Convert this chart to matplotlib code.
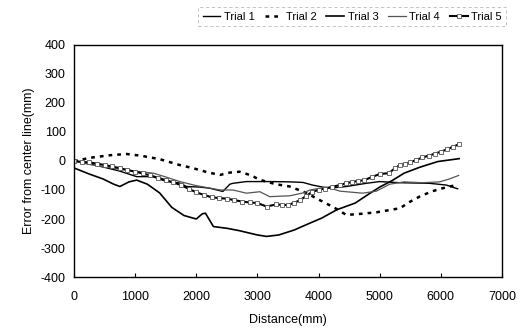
import matplotlib
matplotlib.use("Agg")
import matplotlib.pyplot as plt

plt.rcParams['font.family'] = ['Liberation Sans', 'DejaVu Sans']
plt.rcParams['axes.unicode_minus'] = False

# Trial 1 (black solid)
t1_x = [0, 250, 500, 750, 1025, 1290, 1500, 1730, 1840, 2060, 2220, 2435, 2550, 2600, 2820, 3200, 3530, 3745, 3900, 4070, 4180, 4455, 4780, 5000, 5330, 5815, 6090, 6275]
t1_y = [0, -10, -22, -35, -54, -54, -70, -76, -88, -90, -94, -105, -80, -77, -71, -71, -72, -74, -83, -90, -94, -88, -77, -71, -75, -77, -83, -96]

# Trial 2 (dashed)
t2_x = [0, 300, 600, 860, 1100, 1405, 1730, 1950, 2200, 2390, 2550, 2710, 2900, 3040, 3300, 3530, 3800, 4020, 4250, 4455, 4700, 4945, 5330, 5500, 5650, 5850, 6030, 6250]
t2_y = [0, 12, 20, 24, 18, 6, -14, -25, -40, -48, -40, -37, -50, -65, -80, -88, -110, -135, -160, -186, -182, -177, -163, -140, -123, -105, -94, -83]

# Trial 3 (lowest, black)
t3_x = [0, 250, 475, 650, 750, 900, 1025, 1200, 1400, 1600, 1800, 2000, 2100, 2150, 2280, 2500, 2700, 3000, 3150, 3350, 3600, 3850, 4050, 4300, 4600, 4850, 5000, 5200, 5400, 5650, 5950, 6300]
t3_y = [-24, -45, -62, -80, -88, -72, -66, -80, -110, -160, -188, -200, -182, -180, -226, -232, -240, -255, -260, -255, -238, -215, -197, -168, -145, -110, -90, -68, -42, -22, -2, 8]

# Trial 4 (gray)
t4_x = [0, 250, 500, 800, 1000, 1295, 1500, 1730, 2000, 2390, 2600, 2820, 3040, 3200, 3530, 3750, 3860, 4130, 4350, 4720, 4945, 5165, 5400, 5700, 5980, 6140, 6290]
t4_y = [0, -12, -20, -30, -35, -42, -55, -71, -85, -100, -100, -111, -106, -123, -120, -110, -100, -90, -104, -111, -104, -80, -72, -75, -72, -62, -50]

# Trial 5 (squares)
t5_x = [0, 125, 250, 375, 500, 625, 750, 875, 1000, 1125, 1250, 1375, 1500, 1625, 1750, 1875, 2000, 2125, 2250, 2375, 2500, 2625, 2750, 2875, 3000, 3150, 3300, 3400, 3500, 3600, 3700, 3800, 3900, 4000, 4100, 4225, 4350, 4450, 4550, 4650, 4750, 4875, 5000, 5150, 5250, 5330, 5420, 5500, 5600, 5700, 5800, 5900, 6000, 6100, 6200, 6300]
t5_y = [0, -3, -5, -9, -14, -19, -25, -31, -37, -43, -50, -58, -66, -74, -83, -96, -108, -117, -125, -128, -130, -135, -140, -143, -145, -157, -150, -151, -152, -144, -135, -120, -106, -100, -95, -89, -83, -77, -72, -69, -66, -55, -45, -42, -25, -14, -9, -5, 4, 12, 18, 25, 32, 40, 49, 58]

labels = ["Trial 1", "Trial 2", "Trial 3", "Trial 4", "Trial 5"]
x_ticks = [0, 1000, 2000, 3000, 4000, 5000, 6000, 7000]
y_ticks = [-400, -300, -200, -100, 0, 100, 200, 300, 400]

fig = plt.figure(figsize=(5.21, 3.35), dpi=100)
ax = fig.add_axes([0.142, 0.173, 0.8215, 0.693])

ax.plot(t1_x, t1_y, color='black', lw=1.0, label=labels[0])
ax.plot(t2_x, t2_y, color='black', lw=1.8, ls=(0, (1.5, 2.0)), label=labels[1])
ax.plot(t3_x, t3_y, color='black', lw=1.2, label=labels[2])
ax.plot(t4_x, t4_y, color='#555555', lw=0.9, label=labels[3])
ax.plot(t5_x, t5_y, color='black', lw=1.5, marker='s', markersize=3.2,
        markerfacecolor='white', markeredgecolor='#555555', markeredgewidth=0.6, label=labels[4])

ax.set_xlim(0, 7000)
ax.set_ylim(-400, 400)
ax.set_xticks(x_ticks)
ax.set_yticks(y_ticks)
ax.tick_params(axis='x', direction='in', length=3, pad=10, labelsize=9)
ax.tick_params(axis='y', direction='in', length=0, pad=6, labelsize=9)
for s in ax.spines.values():
    s.set_linewidth(1.0)
    s.set_color('black')

ax.set_xlabel("Distance(mm)", fontsize=9, labelpad=8)
ax.set_ylabel("Error from center line(mm)", fontsize=9, labelpad=4)

leg = fig.legend(loc='center', bbox_to_anchor=(0.676, 0.95), ncol=5, fontsize=8,
                 frameon=True, fancybox=False, handlelength=1.6, handletextpad=0.3,
                 columnspacing=0.9, borderpad=0.4, borderaxespad=0)
leg.get_frame().set_edgecolor('#aaaaaa')
leg.get_frame().set_linewidth(0.6)
leg.get_frame().set_linestyle((0, (4, 3)))

fig.savefig("out.png", dpi=100)
